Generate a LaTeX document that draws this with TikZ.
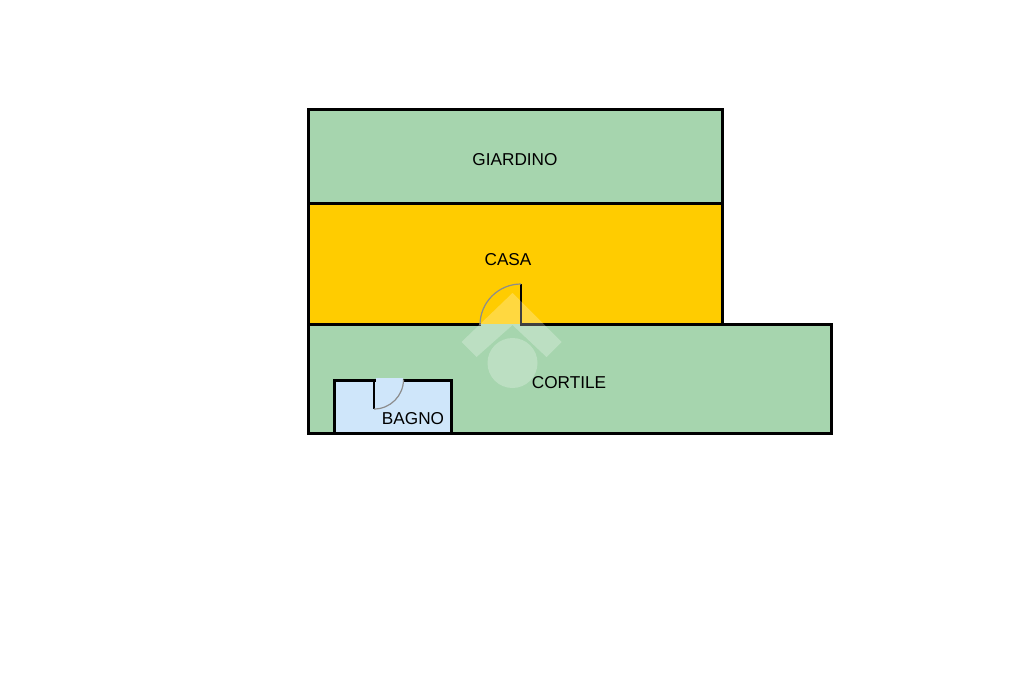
\documentclass[tikz,border=0pt]{standalone}
\usepackage{fontspec}
\setmainfont{Liberation Sans}
\definecolor{garden}{HTML}{A6D5AE}
\definecolor{house}{HTML}{FFCC00}
\definecolor{bath}{HTML}{CFE6FA}
\tikzset{
  wall/.style={draw=black,line width=3pt,line join=miter,line cap=rect},
  room/.style={wall,fill=#1},
  leaf/.style={draw=black,line width=2pt},
  swing/.style={draw=black!45,line width=1.2pt},
  roomlabel/.style={font=\fontsize{17.2}{19}\selectfont,text=black,inner sep=0pt},
  wmark/.style={fill=white,fill opacity=.25,draw=none}
}
\begin{document}
\begin{tikzpicture}[x=1pt,y=-1pt]
\useasboundingbox (0,0) rectangle (1024,682);
\fill[white] (0,0) rectangle (1024,682);
% rooms
\path[room=garden] (308,110) rectangle (722,203);
\path[room=house] (308,203) rectangle (722,324);
\path[room=garden] (308,324) rectangle (831,433);
\path[room=bath] (334,380) rectangle (451,433);
% door openings
\fill[house] (481,320) rectangle (520,324);
\fill[garden] (481,324) rectangle (520,327);
\fill[bath] (376,378) rectangle (403,382);
% door leaves and swings
\draw[leaf] (521,284) -- (521,325);
\draw[swing] (521,284) arc[start angle=270,end angle=180,radius=41];
\draw[leaf] (374,380) -- (374,409);
\draw[swing] (374,409) arc[start angle=90,end angle=0,radius=29.5];
% watermark
\fill[wmark] (512.5,293) -- (561.5,342) -- (546.5,357) -- (512.5,325) -- (476.5,357) -- (461.5,342) -- cycle;
\fill[wmark] (512.5,363) circle[radius=25];
% labels
\node[roomlabel] (giardino) at (515,160) {GIARDINO};
\node[roomlabel] (casa) at (508,260) {CASA};
\node[roomlabel] (cortile) at (569,383) {CORTILE};
\node[roomlabel] (bagno) at (413,419) {BAGNO};
\end{tikzpicture}
\end{document}
